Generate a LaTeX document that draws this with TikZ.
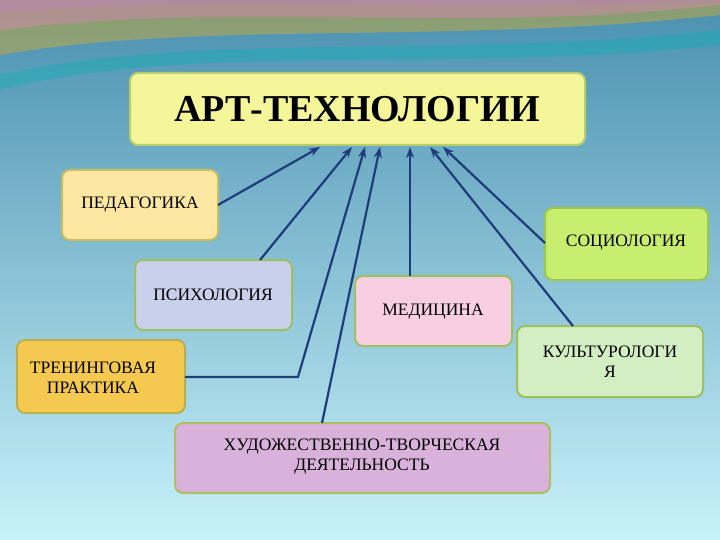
\documentclass[tikz,border=0pt]{standalone}
\usepackage{fontspec}
\setmainfont{Liberation Serif}
\usetikzlibrary{arrows.meta}
\definecolor{bgtop}{HTML}{4A90B0}
\definecolor{bgbot}{HTML}{C8F2FA}
\definecolor{arr}{HTML}{1F3D7A}
\definecolor{cT}{HTML}{F5F59A}\definecolor{dT}{HTML}{B5D06A}
\definecolor{cP}{HTML}{FDE7A2}\definecolor{dP}{HTML}{C8C060}
\definecolor{cS}{HTML}{C8EE70}\definecolor{dS}{HTML}{9CC850}
\definecolor{cY}{HTML}{C8D0EC}\definecolor{dG}{HTML}{A0C060}
\definecolor{cM}{HTML}{F8CEE2}
\definecolor{cK}{HTML}{D2EEC2}
\definecolor{cR}{HTML}{F5C850}\definecolor{dR}{HTML}{B8B050}
\definecolor{cH}{HTML}{D8B2DA}\definecolor{dH}{HTML}{B0C060}
\tikzset{
 box/.style={rounded corners=8pt, line width=2pt},
 lbl/.style={font=\fontsize{17.5}{20}\selectfont, align=center, text=black},
 conn/.style={arr, line width=2.2pt, -{Stealth[length=11pt,width=8pt]}}
}
\begin{document}
\begin{tikzpicture}[x=1pt,y=-1pt]
\useasboundingbox (0,0) rectangle (720,540);
\shade[top color=bgtop, bottom color=bgbot] (0,0) rectangle (720,540);
\fill[orange!60!yellow,opacity=.35] (0,0) -- (0,55) .. controls (200,20) and (450,45) .. (720,15) -- (720,0) -- cycle;
\fill[magenta!50,opacity=.35] (0,0) -- (0,30) .. controls (250,0) and (450,35) .. (720,5) -- (720,0) -- cycle;
\fill[violet!50,opacity=.35] (0,0) -- (0,12) .. controls (250,-5) and (450,15) .. (720,0) -- cycle;
\fill[teal!60!cyan,opacity=.35] (0,75) .. controls (200,30) and (450,60) .. (720,30) -- (720,45) .. controls (450,75) and (200,40) .. (0,90) -- cycle;

\draw[box, fill=cT, draw=dT] (130,73) rectangle (585,145);
\node[font=\bfseries\fontsize{38}{42}\selectfont] (t) at (357,109) {АРТ-ТЕХНОЛОГИИ};

\draw[box, fill=cP, draw=dP] (62,170) rectangle (218,240);
\node[lbl] (ped) at (140,205) {ПЕДАГОГИКА};
\draw[box, fill=cS, draw=dS] (545,208) rectangle (708,280);
\node[lbl] (soc) at (626,243) {СОЦИОЛОГИЯ};
\draw[box, fill=cY, draw=dG] (135,260) rectangle (292,330);
\node[lbl] (psy) at (213,295) {ПСИХОЛОГИЯ};
\draw[box, fill=cM, draw=dG] (355,276) rectangle (512,346);
\node[lbl] (med) at (433,312) {МЕДИЦИНА};
\draw[box, fill=cK, draw=dG] (517,326) rectangle (703,397);
\node[lbl] (kul) at (610,362) {КУЛЬТУРОЛОГИ\\Я};
\draw[box, fill=cR, draw=dR] (17,340) rectangle (185,413);
\node[lbl] (tre) at (93,378) {ТРЕНИНГОВАЯ\\ПРАКТИКА};
\draw[box, fill=cH, draw=dH] (175,423) rectangle (550,493);
\node[lbl] (hud) at (362,457) {ХУДОЖЕСТВЕННО-ТВОРЧЕСКАЯ\\ДЕЯТЕЛЬНОСТЬ};

\coordinate (a1) at (320,147); \coordinate (a2) at (352,147);
\coordinate (a3) at (365,147); \coordinate (a4) at (380,147);
\coordinate (a5) at (410,147); \coordinate (a6) at (430,147);
\coordinate (a7) at (443,147);
\coordinate (p1) at (218,205); \coordinate (p2) at (260,260);
\coordinate (p3) at (185,377); \coordinate (p3b) at (298,377);
\coordinate (p4) at (322,423); \coordinate (p5) at (410,276);
\coordinate (p6) at (573,326); \coordinate (p7) at (545,243);
\draw[conn] (p1) -- (a1);
\draw[conn] (p2) -- (a2);
\draw[conn] (p3) -- (p3b) -- (a3);
\draw[conn] (p4) -- (a4);
\draw[conn] (p5) -- (a5);
\draw[conn] (p6) -- (a6);
\draw[conn] (p7) -- (a7);
\end{tikzpicture}
\end{document}
